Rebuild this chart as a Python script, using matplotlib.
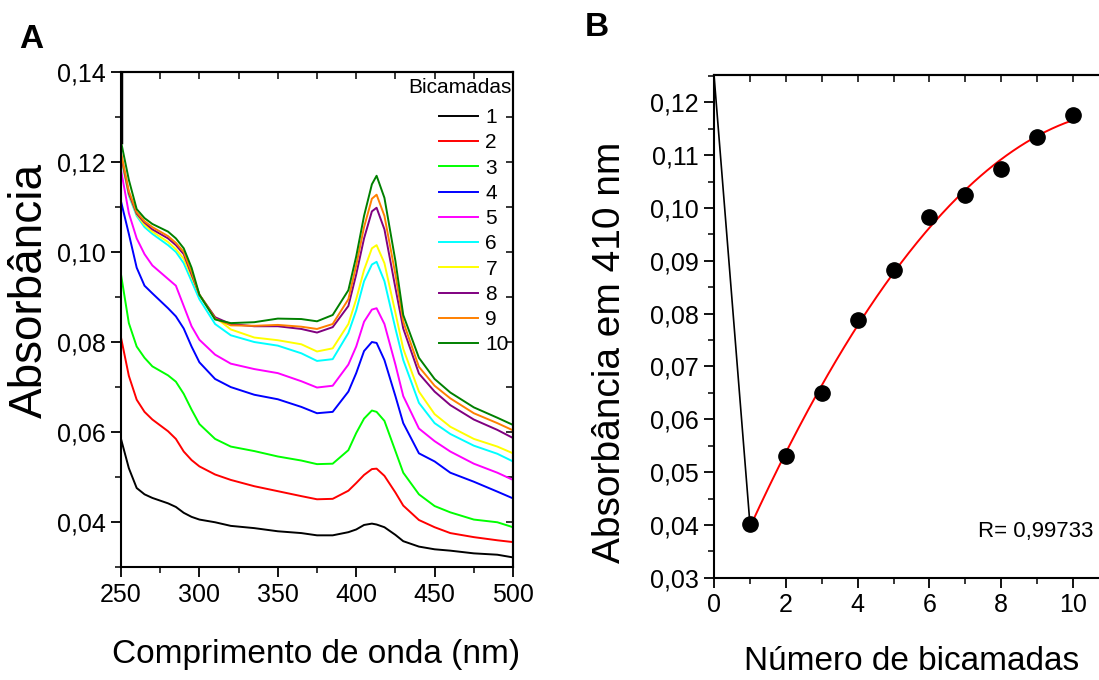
import numpy as np
import matplotlib
matplotlib.use("Agg")
from matplotlib import pyplot as plt
from matplotlib.ticker import MultipleLocator, FuncFormatter

plt.rcParams["font.family"] = ["Liberation Sans", "DejaVu Sans"]

# spectra, one row per number of bilayers
wavelength = [250, 255, 260, 265, 270, 280, 285, 290, 295, 300, 310, 320, 335, 350, 365,
              375, 385, 395, 400, 405, 410, 413, 418, 425, 430, 440, 450, 460, 475, 490, 500]

abs_1 = [0.0585, 0.0520, 0.0476, 0.0462, 0.0454, 0.0442, 0.0434, 0.0421, 0.0412, 0.0406, 0.0400,
         0.0392, 0.0387, 0.0380, 0.0376, 0.0371, 0.0371, 0.0378, 0.0384, 0.0394, 0.0397, 0.0395,
         0.0389, 0.0372, 0.0358, 0.0346, 0.0340, 0.0337, 0.0331, 0.0328, 0.0322]
abs_2 = [0.0810, 0.0725, 0.0672, 0.0645, 0.0628, 0.0602, 0.0585, 0.0557, 0.0538, 0.0524, 0.0506,
         0.0494, 0.0480, 0.0469, 0.0458, 0.0451, 0.0452, 0.0470, 0.0487, 0.0505, 0.0518, 0.0519,
         0.0503, 0.0466, 0.0437, 0.0405, 0.0389, 0.0376, 0.0367, 0.0360, 0.0356]
abs_3 = [0.0950, 0.0842, 0.0790, 0.0765, 0.0746, 0.0726, 0.0712, 0.0685, 0.0650, 0.0618, 0.0585,
         0.0568, 0.0558, 0.0546, 0.0537, 0.0529, 0.0530, 0.0560, 0.0598, 0.0630, 0.0648, 0.0645,
         0.0625, 0.0558, 0.0510, 0.0462, 0.0436, 0.0422, 0.0406, 0.0400, 0.0389]
abs_4 = [0.1112, 0.1040, 0.0965, 0.0925, 0.0908, 0.0875, 0.0857, 0.0830, 0.0790, 0.0755, 0.0718,
         0.0700, 0.0683, 0.0673, 0.0656, 0.0642, 0.0645, 0.0690, 0.0731, 0.0780, 0.0800, 0.0798,
         0.0760, 0.0680, 0.0620, 0.0553, 0.0535, 0.0510, 0.0490, 0.0468, 0.0453]
abs_5 = [0.1182, 0.1086, 0.1030, 0.0995, 0.0970, 0.0940, 0.0925, 0.0880, 0.0835, 0.0805, 0.0772,
         0.0752, 0.0740, 0.0731, 0.0713, 0.0699, 0.0703, 0.0750, 0.0790, 0.0845, 0.0872, 0.0875,
         0.0840, 0.0750, 0.0680, 0.0608, 0.0580, 0.0557, 0.0530, 0.0510, 0.0494]
abs_6 = [0.1210, 0.1125, 0.1080, 0.1055, 0.1040, 0.1015, 0.1000, 0.0975, 0.0935, 0.0895, 0.0840,
         0.0815, 0.0800, 0.0792, 0.0775, 0.0758, 0.0762, 0.0820, 0.0870, 0.0935, 0.0972, 0.0978,
         0.0935, 0.0830, 0.0760, 0.0665, 0.0620, 0.0596, 0.0570, 0.0552, 0.0535]
abs_7 = [0.1212, 0.1128, 0.1083, 0.1060, 0.1045, 0.1022, 0.1006, 0.0985, 0.0945, 0.0905, 0.0855,
         0.0828, 0.0810, 0.0804, 0.0795, 0.0779, 0.0786, 0.0840, 0.0895, 0.0960, 0.1008, 0.1015,
         0.0975, 0.0865, 0.0785, 0.0690, 0.0640, 0.0612, 0.0585, 0.0568, 0.0553]
abs_8 = [0.1215, 0.1130, 0.1085, 0.1065, 0.1050, 0.1030, 0.1015, 0.0995, 0.0950, 0.0905, 0.0855,
         0.0840, 0.0835, 0.0835, 0.0829, 0.0821, 0.0833, 0.0880, 0.0950, 0.1030, 0.1090, 0.1098,
         0.1050, 0.0920, 0.0830, 0.0730, 0.0690, 0.0660, 0.0628, 0.0605, 0.0587]
abs_9 = [0.1220, 0.1135, 0.1088, 0.1068, 0.1055, 0.1035, 0.1020, 0.1000, 0.0955, 0.0905, 0.0852,
         0.0837, 0.0836, 0.0838, 0.0834, 0.0829, 0.0840, 0.0895, 0.0970, 0.1055, 0.1118, 0.1127,
         0.1080, 0.0950, 0.0845, 0.0745, 0.0703, 0.0675, 0.0642, 0.0620, 0.0604]
abs_10 = [0.1245, 0.1160, 0.1095, 0.1075, 0.1062, 0.1045, 0.1030, 0.1008, 0.0965, 0.0905, 0.0850,
          0.0842, 0.0844, 0.0852, 0.0851, 0.0846, 0.0860, 0.0915, 0.0990, 0.1080, 0.1150, 0.1169,
          0.1120, 0.0980, 0.0860, 0.0765, 0.0718, 0.0688, 0.0655, 0.0632, 0.0616]

spectra = [abs_1, abs_2, abs_3, abs_4, abs_5, abs_6, abs_7, abs_8, abs_9, abs_10]
spectra_labels = ["1", "2", "3", "4", "5", "6", "7", "8", "9", "10"]
colors = ["black", "#ff0000", "#00ff00", "#0000ff", "#ff00ff",
          "#00ffff", "#ffff00", "#800080", "#ff8000", "#008000"]

# spike at the start of the scan
start_nm = [250, 250]
start_abs = [0.1245, 0.14]

# absorbance at 410 nm vs number of bilayers
n_bilayers = [1, 2, 3, 4, 5, 6, 7, 8, 9, 10]
abs_410 = [0.0402, 0.0530, 0.0649, 0.0788, 0.0883, 0.0984, 0.1025, 0.1074, 0.1134, 0.1176]
blank_x = [0, 1]
blank_y = [0.1252, 0.0402]
r_text = "R= 0,99733"


def comma(v, pos):
    return ("%.2f" % v).replace(".", ",")


def style_ticks(ax):
    ax.tick_params(which="major", direction="out", length=7, width=1.3, labelsize=18, pad=4)
    ax.tick_params(which="minor", direction="out", length=4, width=1.1)
    for s in ax.spines.values():
        s.set_linewidth(1.5)


fig = plt.figure(figsize=(10.99, 6.8), dpi=100)

# ---- A: spectra ----
axA = fig.add_axes([0.1101, 0.1657, 0.3567, 0.7289])
for y, c, lab in zip(spectra, colors, spectra_labels):
    axA.plot(wavelength, y, color=c, lw=1.4, label=lab)
axA.plot(start_nm, start_abs, color="black", lw=2.5)
axA.set_xlim(250, 500)
axA.set_ylim(0.03, 0.14)
axA.xaxis.set_major_locator(MultipleLocator(50))
axA.xaxis.set_minor_locator(MultipleLocator(25))
axA.yaxis.set_major_locator(MultipleLocator(0.02))
axA.yaxis.set_minor_locator(MultipleLocator(0.01))
axA.yaxis.set_major_formatter(FuncFormatter(comma))
style_ticks(axA)
axA.set_yticks([0.04, 0.06, 0.08, 0.10, 0.12, 0.14])

# mirrored inward ticks on top and right
topA = axA.secondary_xaxis("top")
topA.xaxis.set_major_locator(MultipleLocator(25))
topA.tick_params(direction="in", length=5, width=1.1, labelbottom=False, labeltop=False)
rightA = axA.secondary_yaxis("right")
rightA.yaxis.set_major_locator(MultipleLocator(0.01))
rightA.tick_params(direction="in", length=5, width=1.1, labelright=False)
for sec in (topA, rightA):
    for s in sec.spines.values():
        s.set_linewidth(1.5)

# legend title drawn on its own so the gap above the entries can be set
axA.text(0.997, 0.969, "Bicamadas", transform=axA.transAxes, fontsize=15, ha="right", va="center")
leg = axA.legend(loc="upper right", bbox_to_anchor=(1.0, 0.935), frameon=False, fontsize=15,
                 handlelength=1.9, handletextpad=0.35, labelspacing=0.3,
                 borderpad=0.1, borderaxespad=0.1)

fig.text(316 / 1099, 1 - 655 / 680, "Comprimento de onda (nm)", fontsize=24, ha="center", va="center")
fig.text(30 / 1099, 1 - 290 / 680, "Absorbância", fontsize=33, ha="center", va="center", rotation=90)
fig.text(31 / 1099, 1 - 40 / 680, "A", fontsize=24, fontweight="bold", ha="center", va="center")

# ---- B: absorbance at 410 nm ----
axB = fig.add_axes([0.6497, 0.1504, 0.3503, 0.7393])
axB.plot(blank_x, blank_y, color="black", lw=1.2)
coef = np.polyfit(n_bilayers, abs_410, 2)
xf = np.linspace(n_bilayers[0], n_bilayers[-1], 200)
axB.plot(xf, np.polyval(coef, xf), color="#ff0000", lw=1.4)
axB.plot(n_bilayers, abs_410, "o", color="black", ms=11)
axB.set_xlim(0, 10.72)
axB.set_ylim(0.03, 0.1252)
axB.xaxis.set_major_locator(MultipleLocator(2))
axB.xaxis.set_minor_locator(MultipleLocator(1))
axB.yaxis.set_major_locator(MultipleLocator(0.01))
axB.yaxis.set_minor_locator(MultipleLocator(0.005))
axB.yaxis.set_major_formatter(FuncFormatter(comma))
style_ticks(axB)
axB.spines["right"].set_visible(False)
topB = axB.secondary_xaxis("top")
topB.xaxis.set_major_locator(MultipleLocator(1))
topB.tick_params(direction="in", length=5, width=1.1, labeltop=False)
topB.spines["top"].set_linewidth(1.5)
axB.text(0.985, 0.091, r_text, transform=axB.transAxes, fontsize=16, ha="right", va="center")

fig.text(912 / 1099, 1 - 661 / 680, "Número de bicamadas", fontsize=24, ha="center", va="center")
fig.text(610 / 1099, 1 - 352 / 680, "Absorbância em 410 nm", fontsize=28, ha="center", va="center",
         rotation=90)
fig.text(597 / 1099, 1 - 27 / 680, "B", fontsize=24, fontweight="bold", ha="center", va="center")

fig.savefig("out.png", dpi=100)
